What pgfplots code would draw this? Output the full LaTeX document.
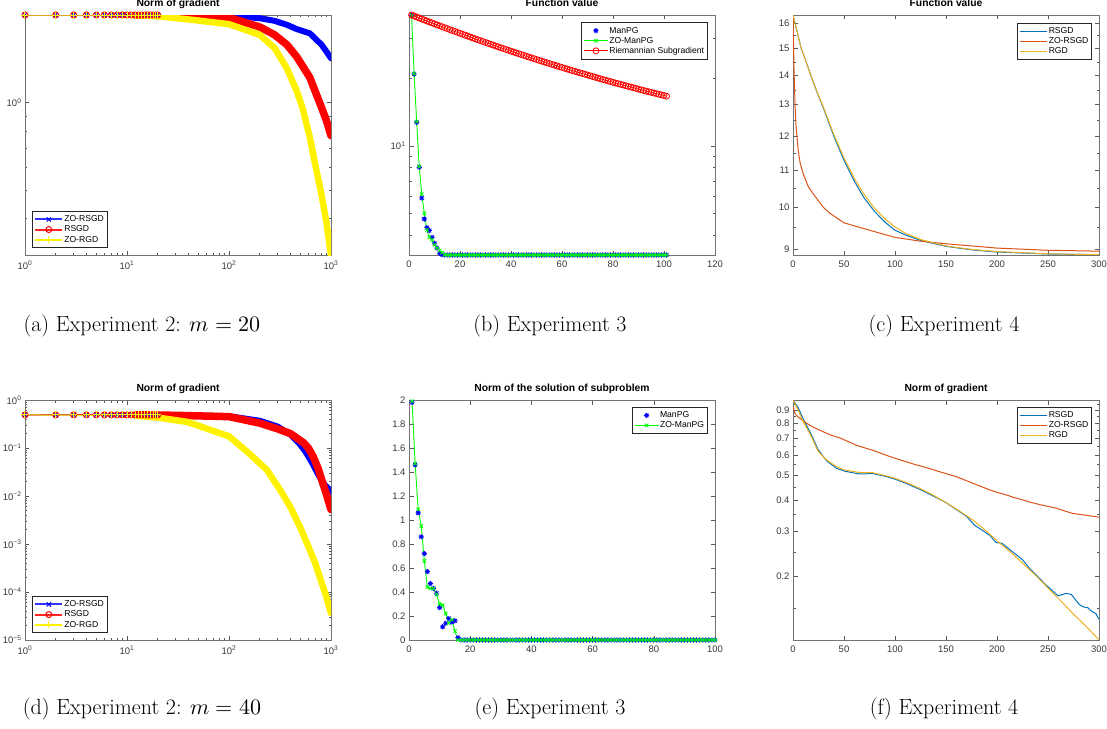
\documentclass[border=0pt]{standalone}
\usepackage{fontspec}
\usepackage{unicode-math}
\setsansfont{Liberation Sans}
\usepackage{pgfplots}
\usepackage{pgfplotstable}
\pgfplotsset{compat=1.18}

\definecolor{mblue}{RGB}{0,114,189}
\definecolor{morange}{RGB}{217,83,25}
\definecolor{myellow}{RGB}{237,177,32}

% matlab '*' marker: plus and cross together
\pgfdeclareplotmark{mstar}{%
  \pgfpathmoveto{\pgfqpoint{-\pgfplotmarksize}{0pt}}%
  \pgfpathlineto{\pgfqpoint{\pgfplotmarksize}{0pt}}%
  \pgfpathmoveto{\pgfqpoint{0pt}{-\pgfplotmarksize}}%
  \pgfpathlineto{\pgfqpoint{0pt}{\pgfplotmarksize}}%
  \pgfpathmoveto{\pgfqpoint{-0.7071\pgfplotmarksize}{-0.7071\pgfplotmarksize}}%
  \pgfpathlineto{\pgfqpoint{0.7071\pgfplotmarksize}{0.7071\pgfplotmarksize}}%
  \pgfpathmoveto{\pgfqpoint{-0.7071\pgfplotmarksize}{0.7071\pgfplotmarksize}}%
  \pgfpathlineto{\pgfqpoint{0.7071\pgfplotmarksize}{-0.7071\pgfplotmarksize}}%
  \pgfusepathqstroke}

\pgfplotsset{
  mat/.style={
    scale only axis, width=306pt, height=240pt,
    axis line style={draw=black!55, line width=0.6pt},
    tick style={draw=black!65, line width=0.5pt},
    major tick length=4.5pt, minor tick length=2.5pt,
    tick align=inside,
    tick label style={font=\sffamily\fontsize{9.5}{10}\selectfont, text=black!78},
    /pgf/number format/assume math mode=true,
    xticklabel style={yshift=-2.5pt},
    title style={font=\sffamily\bfseries\fontsize{10.3}{11}\selectfont, at={(0.5,1)}, anchor=base, inner sep=0pt, yshift=2.6pt},
    legend cell align=left,
    legend style={draw=black!85, line width=0.6pt, fill=white,
      font=\sffamily\fontsize{8.6}{9}\selectfont,
      inner xsep=2pt, inner ysep=3pt, row sep=0pt,
      nodes={inner sep=1pt, text height=6.4pt, text depth=1.7pt}},
  },
  leg27/.style={legend image code/.code={\draw[mark repeat=2,mark phase=2,##1] plot coordinates {(0pt,0pt) (13.5pt,0pt) (27pt,0pt)};}},
  leg24/.style={legend image code/.code={\draw[mark repeat=2,mark phase=2,##1] plot coordinates {(0pt,0pt) (12pt,0pt) (24pt,0pt)};}},
  legline/.style={legend image code/.code={\draw[line width=1.3pt,##1] (0pt,0pt) -- (27pt,0pt);}},
}

% ---------- Experiment 2, m = 20
\pgfplotstableread{
x y
1 2
12 2
40 2
100 1.99
200 1.95
280 1.91
370 1.85
460 1.79
620 1.73
700 1.66
810 1.58
900 1.50
1000 1.42
}\aBlue
\pgfplotstableread{
x y
1 2
12 2
40 1.99
100 1.96
200 1.82
280 1.71
370 1.58
460 1.44
620 1.22
810 0.96
900 0.87
1000 0.77
}\aRed
\pgfplotstableread{
x y
1 2
12 2
20 1.98
41 1.93
100 1.86
200 1.71
280 1.54
370 1.31
460 1.10
530 0.95
620 0.76
710 0.60
810 0.48
900 0.39
1000 0.30
}\aYel
\pgfplotstableread{
x y
1 2
2 2
3 2
4 2
5 2
6 2
7 2
8 2
9 2
10 2
11 2
12 2
13 2
14 2
15 2
16 2
17 2
18 2
19 2
20 2
}\aMk

% ---------- Experiment 2, m = 40
\pgfplotstableread{
x y
1 0.49
12 0.49
30 0.48
100 0.46
200 0.37
300 0.28
400 0.19
480 0.13
560 0.085
650 0.05
750 0.028
850 0.018
950 0.014
1000 0.012
}\dBlue
\pgfplotstableread{
x y
1 0.49
12 0.49
30 0.48
100 0.45
200 0.33
300 0.25
400 0.20
535 0.13
600 0.10
670 0.066
750 0.037
815 0.021
900 0.011
1000 0.0052
}\dRed
\pgfplotstableread{
x y
1 0.49
12 0.47
20 0.43
39 0.35
100 0.175
160 0.075
235 0.035
320 0.013
398 0.006
500 0.0022
620 0.00075
700 0.0004
800 0.00017
900 0.00008
1000 0.000036
}\dYel
\pgfplotstableread{
x y
1 0.49
2 0.49
3 0.49
4 0.49
5 0.49
6 0.49
7 0.49
8 0.49
9 0.49
10 0.49
11 0.49
12 0.49
13 0.49
14 0.49
15 0.49
16 0.49
17 0.49
18 0.49
19 0.49
20 0.49
}\dMk

% ---------- Experiment 3, function value
\pgfplotstableread{
x mp zo rs
1 38.0 38.0 38.02
2 20.8 20.9 37.64
3 12.7 12.8 37.27
4 8.03 8.1 36.89
5 5.87 6.10 36.51
6 4.74 5.02 36.14
7 4.34 4.24 35.79
8 4.21 3.93 35.44
9 3.93 3.83 35.09
10 3.70 3.64 34.74
11 3.52 3.52 34.39
12 3.34 3.43 34.06
13 3.29 3.36 33.74
14 3.28 3.29 33.41
15 3.28 3.28 33.09
16 3.28 3.28 32.76
17 3.28 3.28 32.45
18 3.28 3.28 32.15
19 3.28 3.28 31.84
20 3.28 3.28 31.54
21 3.28 3.28 31.23
22 3.28 3.28 30.94
23 3.28 3.28 30.66
24 3.28 3.28 30.37
25 3.28 3.28 30.09
26 3.28 3.28 29.80
27 3.28 3.28 29.53
28 3.28 3.28 29.27
29 3.28 3.28 29.00
30 3.28 3.28 28.74
31 3.28 3.28 28.47
32 3.28 3.28 28.22
33 3.28 3.28 27.97
34 3.28 3.28 27.72
35 3.28 3.28 27.47
36 3.28 3.28 27.22
37 3.28 3.28 26.99
38 3.28 3.28 26.75
39 3.28 3.28 26.52
40 3.28 3.28 26.28
41 3.28 3.28 26.05
42 3.28 3.28 25.83
43 3.28 3.28 25.61
44 3.28 3.28 25.40
45 3.28 3.28 25.18
46 3.28 3.28 24.96
47 3.28 3.28 24.75
48 3.28 3.28 24.55
49 3.28 3.28 24.34
50 3.28 3.28 24.14
51 3.28 3.28 23.93
52 3.28 3.28 23.74
53 3.28 3.28 23.55
54 3.28 3.28 23.35
55 3.28 3.28 23.16
56 3.28 3.28 22.97
57 3.28 3.28 22.79
58 3.28 3.28 22.61
59 3.28 3.28 22.43
60 3.28 3.28 22.25
61 3.28 3.28 22.07
62 3.28 3.28 21.90
63 3.28 3.28 21.73
64 3.28 3.28 21.57
65 3.28 3.28 21.40
66 3.28 3.28 21.23
67 3.28 3.28 21.07
68 3.28 3.28 20.91
69 3.28 3.28 20.76
70 3.28 3.28 20.60
71 3.28 3.28 20.44
72 3.28 3.28 20.29
73 3.28 3.28 20.14
74 3.28 3.28 19.99
75 3.28 3.28 19.84
76 3.28 3.28 19.69
77 3.28 3.28 19.55
78 3.28 3.28 19.41
79 3.28 3.28 19.27
80 3.28 3.28 19.13
81 3.28 3.28 18.99
82 3.28 3.28 18.86
83 3.28 3.28 18.73
84 3.28 3.28 18.60
85 3.28 3.28 18.47
86 3.28 3.28 18.34
87 3.28 3.28 18.22
88 3.28 3.28 18.09
89 3.28 3.28 17.97
90 3.28 3.28 17.84
91 3.28 3.28 17.72
92 3.28 3.28 17.60
93 3.28 3.28 17.49
94 3.28 3.28 17.37
95 3.28 3.28 17.26
96 3.28 3.28 17.14
97 3.28 3.28 17.03
98 3.28 3.28 16.92
99 3.28 3.28 16.82
100 3.28 3.28 16.71
101 3.28 3.28 16.60
}\bData

% ---------- Experiment 3, norm of subproblem solution
\pgfplotstableread{
x mp zo
1 1.98 1.99
2 1.46 1.47
3 1.06 1.09
4 0.86 0.95
5 0.72 0.66
6 0.57 0.44
7 0.47 0.43
8 0.43 0.43
9 0.39 0.38
10 0.27 0.30
11 0.11 0.29
12 0.14 0.22
13 0.18 0.14
14 0.15 0.17
15 0.16 0.075
16 0.02 0
17 0 0
18 0 0
19 0 0
20 0 0
21 0 0
22 0 0
23 0 0
24 0 0
25 0 0
26 0 0
27 0 0
28 0 0
29 0 0
30 0 0
31 0 0
32 0 0
33 0 0
34 0 0
35 0 0
36 0 0
37 0 0
38 0 0
39 0 0
40 0 0
41 0 0
42 0 0
43 0 0
44 0 0
45 0 0
46 0 0
47 0 0
48 0 0
49 0 0
50 0 0
51 0 0
52 0 0
53 0 0
54 0 0
55 0 0
56 0 0
57 0 0
58 0 0
59 0 0
60 0 0
61 0 0
62 0 0
63 0 0
64 0 0
65 0 0
66 0 0
67 0 0
68 0 0
69 0 0
70 0 0
71 0 0
72 0 0
73 0 0
74 0 0
75 0 0
76 0 0
77 0 0
78 0 0
79 0 0
80 0 0
81 0 0
82 0 0
83 0 0
84 0 0
85 0 0
86 0 0
87 0 0
88 0 0
89 0 0
90 0 0
91 0 0
92 0 0
93 0 0
94 0 0
95 0 0
96 0 0
97 0 0
98 0 0
99 0 0
100 0 0
}\eData

% ---------- Experiment 4, function value
\pgfplotstableread{
x y
0 16.33
2 16.0
5 15.5
8 15.0
12 14.6
18 13.95
24 13.38
30 12.87
40 12.0
50 11.28
60 10.7
70 10.24
80 9.9
90 9.64
100 9.44
110 9.33
125 9.2
150 9.06
175 8.98
200 8.93
250 8.885
300 8.87
}\cB
\pgfplotstableread{
x y
0 16.33
0.5 15.2
1 14.2
2 13.0
3 12.3
5 11.6
7 11.2
10 10.9
15 10.55
20 10.35
30 10.0
36 9.86
50 9.62
75 9.44
100 9.27
125 9.18
150 9.12
200 9.02
250 8.97
300 8.95
}\cO
\pgfplotstableread{
x y
0 16.33
2 16.0
5 15.5
8 15.0
12 14.6
18 13.95
24 13.4
30 12.9
40 12.05
50 11.35
60 10.78
70 10.33
80 9.98
90 9.72
100 9.52
110 9.37
125 9.22
150 9.07
175 8.99
200 8.94
250 8.89
300 8.87
}\cY

% ---------- Experiment 4, norm of gradient
\pgfplotstableread{
x y
0 0.985
5 0.92
10 0.83
18 0.72
24.5 0.63
32.7 0.57
42.5 0.532
50.7 0.518
65 0.505
78 0.507
90 0.495
100 0.482
112 0.462
124 0.44
137 0.415
150 0.39
163 0.36
170 0.345
178 0.318
185 0.305
193 0.29
199 0.272
205 0.27
210 0.26
218 0.245
225 0.233
232 0.215
240 0.2
247 0.187
255 0.175
260 0.168
264 0.17
268 0.172
273 0.17
277 0.162
281 0.155
285 0.152
289 0.151
293 0.146
297 0.143
300 0.136
}\fB
\pgfplotstableread{
x y
0 0.93
2 0.87
5 0.845
13 0.80
20 0.77
29.4 0.74
38 0.715
45.8 0.70
54 0.677
62 0.655
70 0.64
78 0.626
87 0.607
95 0.591
103 0.577
111 0.564
119 0.551
127 0.54
136 0.527
144 0.515
152 0.504
160 0.493
168 0.479
176 0.465
185 0.45
193 0.437
201 0.427
209 0.418
217 0.408
225 0.40
233 0.391
242 0.383
250 0.377
258 0.371
266 0.362
274 0.354
287 0.348
300 0.342
}\fO
\pgfplotstableread{
x y
0 0.985
5 0.90
10 0.81
18 0.708
24.5 0.62
32.7 0.574
42.5 0.54
50.7 0.523
65 0.512
78 0.511
90 0.498
100 0.486
112 0.466
124 0.444
137 0.418
150 0.39
163 0.362
176 0.334
189 0.303
201 0.274
213 0.25
225 0.226
238 0.202
252 0.177
263 0.16
274 0.1437
287 0.128
300 0.113
}\fY

\begin{document}
\begin{tikzpicture}
\path[use as bounding box] (0,0) rectangle (1107pt,-728pt);

% (a)
\begin{axis}[mat, at={(25pt,-255pt)}, anchor=south west,
  xmode=log, ymode=log, xmin=1, xmax=1000, ymin=0.3, ymax=2,
  xtick={1,10,100,1000},
  xticklabels={10\textsuperscript{0},10\textsuperscript{1},10\textsuperscript{2},10\textsuperscript{3}},
  minor xtick={2,3,4,5,6,7,8,9,20,30,40,50,60,70,80,90,200,300,400,500,600,700,800,900},
  ytick={1}, yticklabels={10\textsuperscript{0}},
  minor ytick={0.4,0.5,0.6,0.7,0.8,0.9},
  title={Norm of gradient}, leg27,
  legend style={at={(0,0)}, anchor=south west, xshift=7pt, yshift=7pt}]
\addlegendimage{blue!80!white, line width=2pt, mark=x, mark size=3pt, mark options={line width=1pt, blue}}
\addlegendentry{ZO-RSGD}
\addlegendimage{red!85!white, line width=2pt, mark=o, mark size=3pt, mark options={line width=1pt, red}}
\addlegendentry{RSGD}
\addlegendimage{yellow, line width=2pt, mark=+, mark size=3.5pt, mark options={line width=1pt}}
\addlegendentry{ZO-RGD}
\addplot[forget plot, blue, line width=1pt] table[x=x,y=y]{\aBlue};
\addplot[forget plot, blue, line width=6pt, line cap=round, line join=round, skip coords between index={0}{1}] table[x=x,y=y]{\aBlue};
\addplot[forget plot, blue, only marks, mark=x, mark size=3pt, line width=1pt] table[x=x,y=y]{\aMk};
\addplot[forget plot, red, line width=1pt] table[x=x,y=y]{\aRed};
\addplot[forget plot, red, line width=7.5pt, line cap=round, line join=round, skip coords between index={0}{1}] table[x=x,y=y]{\aRed};
\addplot[forget plot, red, only marks, mark=o, mark size=3pt, line width=1pt] table[x=x,y=y]{\aMk};
\addplot[forget plot, yellow, line width=1pt] table[x=x,y=y]{\aYel};
\addplot[forget plot, yellow, line width=6.5pt, line cap=round, line join=round, skip coords between index={0}{1}] table[x=x,y=y]{\aYel};
\addplot[forget plot, yellow, only marks, mark=+, mark size=3.5pt, line width=1pt] table[x=x,y=y]{\aMk};
\end{axis}

% (b)
\begin{axis}[mat, at={(409pt,-255pt)}, anchor=south west,
  ymode=log, xmin=0, xmax=120, ymin=3.28, ymax=38.02,
  xtick={0,20,40,60,80,100,120},
  ytick={10}, yticklabels={10\textsuperscript{1}},
  minor ytick={4,5,6,7,8,9,20,30},
  title={Function value}, leg24,
  legend style={at={(1,1)}, anchor=north east, xshift=-7.7pt, yshift=-7.3pt}]
\addplot[blue, only marks, mark=mstar, mark size=2.6pt, line width=0.9pt] table[x=x,y=mp]{\bData};
\addlegendentry{ManPG}
\addplot[green, line width=0.9pt, mark=x, mark size=2.4pt] table[x=x,y=zo]{\bData};
\addlegendentry{ZO-ManPG}
\addplot[red, line width=0.8pt, mark=o, mark size=3pt] table[x=x,y=rs]{\bData};
\addlegendentry{Riemannian Subgradient}
\end{axis}

% (c)
\begin{axis}[mat, at={(793pt,-255pt)}, anchor=south west,
  ymode=log, xmin=0, xmax=300, ymin=8.863, ymax=16.34,
  xtick={0,50,100,150,200,250,300},
  ytick={9,10,11,12,13,14,15,16}, yticklabels={9,10,11,12,13,14,15,16},
  minor ytick={9.5,10.5,11.5,12.5,13.5,14.5,15.5},
  title={Function value}, legline,
  legend style={at={(1,1)}, anchor=north east, xshift=-7.3pt, yshift=-8pt}]
\addlegendimage{color={rgb,255:red,0;green,114;blue,189}}
\addlegendentry{RSGD}
\addlegendimage{color={rgb,255:red,217;green,83;blue,25}}
\addlegendentry{ZO-RSGD}
\addlegendimage{color={rgb,255:red,237;green,177;blue,32}}
\addlegendentry{RGD}
\addplot[forget plot, mblue, line width=1pt] table[x=x,y=y]{\cB};
\addplot[forget plot, morange, line width=1pt] table[x=x,y=y]{\cO};
\addplot[forget plot, myellow, line width=1pt] table[x=x,y=y]{\cY};
\end{axis}

% (d)
\begin{axis}[mat, at={(25pt,-640pt)}, anchor=south west,
  xmode=log, ymode=log, xmin=1, xmax=1000, ymin=0.00001, ymax=1,
  xtick={1,10,100,1000},
  xticklabels={10\textsuperscript{0},10\textsuperscript{1},10\textsuperscript{2},10\textsuperscript{3}},
  minor xtick={2,3,4,5,6,7,8,9,20,30,40,50,60,70,80,90,200,300,400,500,600,700,800,900},
  ytick={0.00001,0.0001,0.001,0.01,0.1,1},
  yticklabels={10\textsuperscript{−5},10\textsuperscript{−4},10\textsuperscript{−3},10\textsuperscript{−2},10\textsuperscript{−1},10\textsuperscript{0}},
  minor ytick={2e-5,3e-5,4e-5,5e-5,6e-5,7e-5,8e-5,9e-5,2e-4,3e-4,4e-4,5e-4,6e-4,7e-4,8e-4,9e-4,2e-3,3e-3,4e-3,5e-3,6e-3,7e-3,8e-3,9e-3,0.02,0.03,0.04,0.05,0.06,0.07,0.08,0.09,0.2,0.3,0.4,0.5,0.6,0.7,0.8,0.9},
  title={Norm of gradient}, leg27,
  legend style={at={(0,0)}, anchor=south west, xshift=7pt, yshift=7pt}]
\addlegendimage{blue!80!white, line width=2pt, mark=x, mark size=3pt, mark options={line width=1pt, blue}}
\addlegendentry{ZO-RSGD}
\addlegendimage{red!85!white, line width=2pt, mark=o, mark size=3pt, mark options={line width=1pt, red}}
\addlegendentry{RSGD}
\addlegendimage{yellow, line width=2pt, mark=+, mark size=3.5pt, mark options={line width=1pt}}
\addlegendentry{ZO-RGD}
\addplot[forget plot, blue, line width=1pt] table[x=x,y=y]{\dBlue};
\addplot[forget plot, blue, line width=6pt, line cap=round, line join=round, skip coords between index={0}{1}] table[x=x,y=y]{\dBlue};
\addplot[forget plot, blue, only marks, mark=x, mark size=3pt, line width=1pt] table[x=x,y=y]{\dMk};
\addplot[forget plot, red, line width=1pt] table[x=x,y=y]{\dRed};
\addplot[forget plot, red, line width=7.5pt, line cap=round, line join=round, skip coords between index={0}{1}] table[x=x,y=y]{\dRed};
\addplot[forget plot, red, only marks, mark=o, mark size=3pt, line width=1pt] table[x=x,y=y]{\dMk};
\addplot[forget plot, yellow, line width=1pt] table[x=x,y=y]{\dYel};
\addplot[forget plot, yellow, line width=6.5pt, line cap=round, line join=round, skip coords between index={0}{1}] table[x=x,y=y]{\dYel};
\addplot[forget plot, yellow, only marks, mark=+, mark size=3.5pt, line width=1pt] table[x=x,y=y]{\dMk};
\end{axis}

% (e)
\begin{axis}[mat, at={(409pt,-640pt)}, anchor=south west,
  xmin=0, xmax=100, ymin=0, ymax=2,
  xtick={0,20,40,60,80,100},
  ytick={0,0.2,0.4,0.6,0.8,1,1.2,1.4,1.6,1.8,2},
  title={Norm of the solution of subproblem}, leg24,
  legend style={at={(1,1)}, anchor=north east, xshift=-7.7pt, yshift=-7pt}]
\addplot[blue, only marks, mark=mstar, mark size=2.6pt, line width=0.9pt] table[x=x,y=mp]{\eData};
\addlegendentry{ManPG}
\addplot[green, line width=0.9pt, mark=x, mark size=2.4pt] table[x=x,y=zo]{\eData};
\addlegendentry{ZO-ManPG}
\end{axis}

% (f)
\begin{axis}[mat, at={(793pt,-640pt)}, anchor=south west,
  ymode=log, xmin=0, xmax=300, ymin=0.1128, ymax=0.9848,
  xtick={0,50,100,150,200,250,300},
  ytick={0.2,0.3,0.4,0.5,0.6,0.7,0.8,0.9},
  yticklabels={0.2,0.3,0.4,0.5,0.6,0.7,0.8,0.9},
  minor ytick={0.15,0.25,0.35,0.45,0.55,0.65,0.75,0.85,0.95},
  title={Norm of gradient}, legline,
  legend style={at={(1,1)}, anchor=north east, xshift=-7.3pt, yshift=-7pt}]
\addlegendimage{mblue!100!white}
\addlegendentry{RSGD}
\addlegendimage{morange!100!white}
\addlegendentry{ZO-RSGD}
\addlegendimage{myellow!100!white}
\addlegendentry{RGD}
\addplot[forget plot, mblue, line width=1pt] table[x=x,y=y]{\fB};
\addplot[forget plot, morange, line width=1pt] table[x=x,y=y]{\fO};
\addplot[forget plot, myellow, line width=1pt] table[x=x,y=y]{\fY};
\end{axis}

% captions
\begin{scope}[every node/.style={font=\fontsize{22}{24}\selectfont, anchor=base, inner sep=0pt}]
\node at (142pt,-331pt) {(a) Experiment 2: $m=20$};
\node at (550pt,-331pt) {(b) Experiment 3};
\node at (944pt,-331pt) {(c) Experiment 4};
\node at (142pt,-714pt) {(d) Experiment 2: $m=40$};
\node at (550pt,-714pt) {(e) Experiment 3};
\node at (944pt,-714pt) {(f) Experiment 4};
\end{scope}
\end{tikzpicture}
\end{document}
